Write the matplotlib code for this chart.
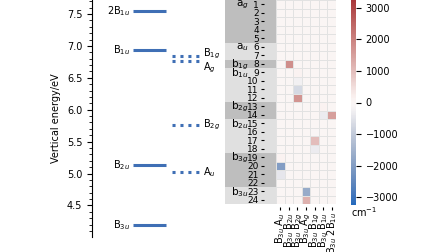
import numpy as np
import matplotlib
matplotlib.use("Agg")
import matplotlib.pyplot as plt
import matplotlib.transforms as mtrans
from matplotlib.patches import Rectangle
import seaborn as sns

# ---------------- data ----------------
solid_labels = ['B$_{3u}$', 'B$_{2u}$', 'B$_{1u}$', '2B$_{1u}$']
solid_E = [4.19, 5.13, 6.94, 7.55]
dotted_labels = ['A$_u$', 'B$_{2g}$', 'A$_g$', 'B$_{1g}$']
dotted_E = [5.03, 5.76, 6.76, 6.84]

col_labels = ['B$_{3u}$ A$_u$', 'B$_{3u}$ B$_{2u}$', 'B$_{3u}$ B$_{2g}$',
              'B$_{3u}$ A$_g$', 'B$_{3u}$ B$_{1g}$', 'B$_{3u}$ B$_{1u}$',
              'B$_{3u}$ 2B$_{1u}$']
row_labels = [str(i) for i in range(1, 25)]
group_names = ['a$_g$', 'a$_u$', 'b$_{1g}$', 'b$_{1u}$', 'b$_{2g}$', 'b$_{2u}$', 'b$_{3g}$', 'b$_{3u}$']
group_sizes = [5, 2, 1, 4, 2, 4, 4, 2]

# coupling values (rows 1..24, columns as col_labels)
cells = {  # (row index, col index): value
    (7, 1): 1800,
    (8, 2): 150, (9, 2): -250, (10, 2): -700, (11, 2): 1700,
    (12, 5): 150, (13, 5): -350, (13, 6): 1500,
    (15, 4): -100, (16, 4): 1000, (17, 4): -350,
    (18, 0): 150, (19, 0): -2000, (20, 0): -450,
    (22, 3): -1700, (23, 3): 1200,
}
vmax = 3250

# ---------------- figure ----------------
fig = plt.figure(figsize=(4.48, 2.52), dpi=100)
blue = '#3f6fb5'

ax1 = fig.add_axes([92/448, 1-236.7/252, 123/448, 236.7/252])
ax1.set_xlim(0, 1)
ax1.set_ylim(4.01, 7.72)
for E, lab in zip(solid_E, solid_labels):
    ax1.plot([0.333, 0.602], [E, E], color=blue, lw=2.2, solid_capstyle='butt')
    ax1.text(0.31, E, lab, ha='right', va='center', fontsize=7)
dy = {'A$_g$': -0.11, 'B$_{1g}$': 0.04}
for E, lab in zip(dotted_E, dotted_labels):
    ax1.plot([0.65, 0.894], [E, E], color=blue, lw=2.2, ls=(0, (1, 1.6)))
    ax1.text(0.9, E + dy.get(lab, 0), lab, ha='left', va='center', fontsize=7)
for s in ['top', 'right', 'bottom']:
    ax1.spines[s].set_visible(False)
ax1.set_xticks([])
ax1.set_yticks(np.arange(4.5, 7.6, 0.5))
ax1.set_yticks(np.arange(4.1, 7.75, 0.1), minor=True)
ax1.tick_params(axis='y', labelsize=7)
ax1.tick_params(axis='y', which='minor', length=2)
ax1.set_ylabel('Vertical energy/eV', fontsize=7)

# heatmap
data = np.zeros((24, 7))
for (r, c), v in cells.items():
    data[r, c] = v

ax2 = fig.add_axes([276/448, 1-204/252, 60/448, 204/252])
cax = fig.add_axes([351/448, 1-205/252, 5/448, 205/252])
sns.heatmap(data, ax=ax2, cbar_ax=cax, cmap='vlag', vmin=-vmax, vmax=vmax,
            linewidths=0.5, linecolor='#e2e2e2',
            xticklabels=col_labels, yticklabels=row_labels)
ax2.spines['left'].set_position(('outward', 9))
ax2.spines['bottom'].set_position(('outward', 2))
ax2.set_yticks(np.arange(24) + 0.5)
ax2.set_xticks(np.arange(7) + 0.5)
ax2.set_yticklabels(row_labels, rotation=0, fontsize=6.5)
ax2.set_xticklabels(col_labels, rotation=90, fontsize=7)
ax2.tick_params(axis='y', pad=1.2, length=2.2)
ax2.tick_params(axis='x', pad=1.5, length=2.2)

trans = mtrans.blended_transform_factory(ax2.transAxes, ax2.transData)
start = 0
for i, (name, n) in enumerate(zip(group_names, group_sizes)):
    col = '#bebebe' if i % 2 == 0 else '#e0e0e0'
    ax2.add_patch(Rectangle((-0.85, start), 0.85, n, transform=trans,
                            facecolor=col, edgecolor='none', clip_on=False, zorder=0))
    ax2.text(-0.46, start + 0.6, name, transform=trans, ha='right', va='center', fontsize=7.5)
    start += n

cax.tick_params(labelsize=7)
cax.set_yticks([-3000, -2000, -1000, 0, 1000, 2000, 3000])
cax.text(0.0, -0.003, 'cm$^{-1}$', transform=cax.transAxes, ha='left', va='top', fontsize=7)

fig.savefig('out.png', dpi=100)
